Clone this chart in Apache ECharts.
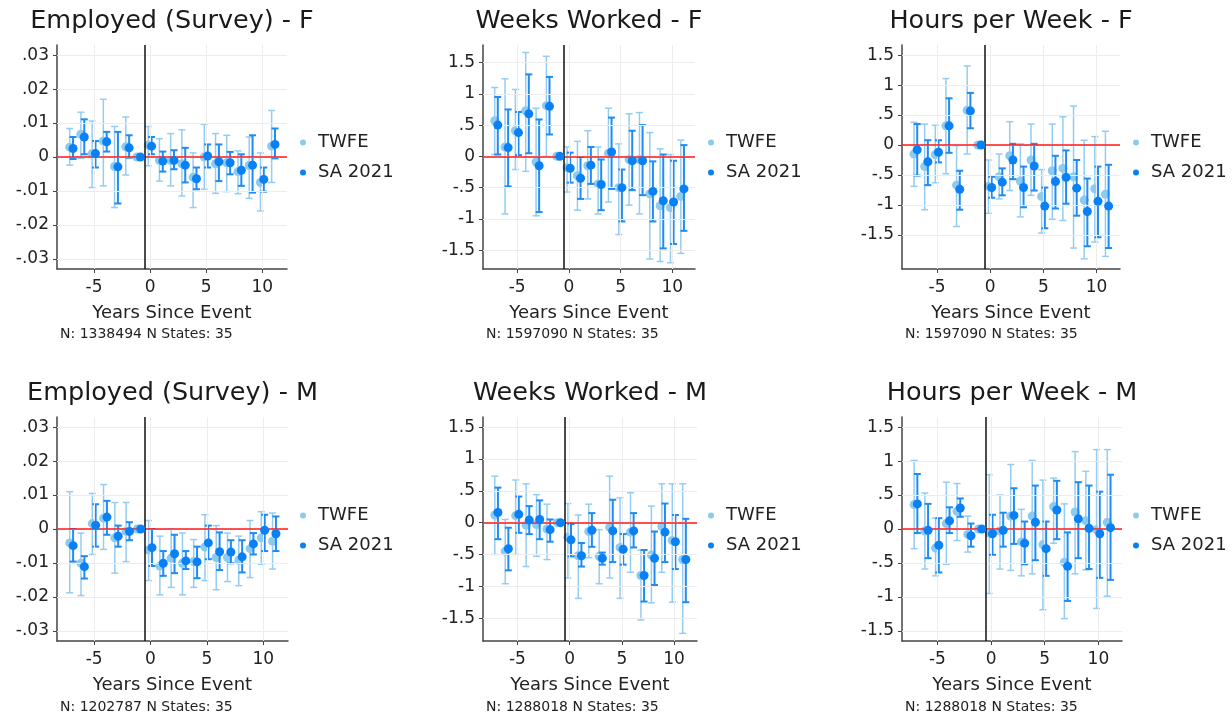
<!DOCTYPE html>
<html>
<head>
<meta charset="utf-8">
<script src="https://cdn.jsdelivr.net/npm/echarts@6.0.0/dist/echarts.min.js"></script>
<style>
  html, body { margin: 0; padding: 0; background: #fff; }
  #main { width: 1232px; height: 715px; }
</style>
</head>
<body>
<div id="main"></div>
<script>
// event time, relative to the policy year
var periods = [-7, -6, -5, -4, -3, -2, -1, 0, 1, 2, 3, 4, 5, 6, 7, 8, 9, 10, 11];
var xTicks = [-5, 0, 5, 10];
var smallTicks = [-0.03, -0.02, -0.01, 0, 0.01, 0.02, 0.03];
var bigTicks = [-1.5, -1, -0.5, 0, 0.5, 1, 1.5];

var titles = ['Employed (Survey) - F', 'Weeks Worked - F', 'Hours per Week - F',
              'Employed (Survey) - M', 'Weeks Worked - M', 'Hours per Week - M'];
var notes = ['N: 1338494 N States: 35', 'N: 1597090 N States: 35', 'N: 1597090 N States: 35',
             'N: 1202787 N States: 35', 'N: 1288018 N States: 35', 'N: 1288018 N States: 35'];

// Employed (Survey) - F
var empF_tw   = [0.0029, 0.0067, 0.001, 0.0047, -0.0028, 0.003, 0, 0.0035, -0.001, -0.001, -0.002, -0.006, 0, -0.002, -0.0017, -0.0043, -0.0025, -0.0075, 0.0032];
var empF_twLo = [-0.0024, -0.0004, -0.009, -0.0085, -0.0149, -0.0053, 0, -0.0026, -0.0071, -0.0085, -0.0115, -0.0149, -0.0095, -0.0107, -0.0102, -0.0108, -0.0122, -0.0159, -0.0075];
var empF_twHi = [0.0084, 0.0132, 0.0106, 0.017, 0.009, 0.0118, 0, 0.009, 0.0054, 0.0069, 0.008, 0.0012, 0.0096, 0.0069, 0.0064, 0.0018, 0.0059, 0.0012, 0.0137];
var empF_sa   = [0.0025, 0.0059, 0.001, 0.0045, -0.0029, 0.0027, 0, 0.0032, -0.0012, -0.001, -0.0024, -0.0064, 0.0003, -0.0014, -0.0017, -0.0039, -0.0024, -0.0066, 0.0037];
var empF_saLo = [-0.0006, 0.0008, -0.0031, 0.0016, -0.0137, -0.0002, 0, 0.0008, -0.0043, -0.0036, -0.0075, -0.0095, -0.0031, -0.0071, -0.0051, -0.0085, -0.0105, -0.0102, -0.0004];
var empF_saHi = [0.0059, 0.0111, 0.0047, 0.0074, 0.0074, 0.0064, 0, 0.0059, 0.0016, 0.002, 0.0027, -0.0031, 0.0037, 0.0037, 0.0015, 0.0008, 0.0064, -0.0031, 0.0084];

// Weeks Worked - F
var wksF_tw   = [0.57, 0.15, 0.41, 0.73, -0.09, 0.81, 0, -0.18, -0.31, -0.15, -0.44, 0.05, -0.5, -0.05, -0.05, -0.6, -0.79, -0.82, -0.64];
var wksF_twLo = [0.03, -0.92, -0.21, -0.24, -0.95, 0, 0, -0.57, -0.86, -0.68, -0.92, -0.73, -1.25, -0.78, -0.92, -1.64, -1.68, -1.7, -1.55];
var wksF_twHi = [1.1, 1.24, 1.07, 1.66, 0.77, 1.6, 0, 0.15, 0.24, 0.41, 0.15, 0.77, 0.2, 0.68, 0.7, 0.38, 0.12, 0.03, 0.26];
var wksF_sa   = [0.5, 0.14, 0.38, 0.68, -0.15, 0.8, 0, -0.19, -0.35, -0.14, -0.45, 0.07, -0.5, -0.07, -0.07, -0.56, -0.71, -0.73, -0.52];
var wksF_saLo = [0.03, -0.48, 0.02, 0.05, -0.89, 0.35, 0, -0.42, -0.68, -0.44, -0.86, -0.52, -1.04, -0.54, -0.62, -1.04, -1.47, -1.4, -1.19];
var wksF_saHi = [0.95, 0.75, 0.71, 1.31, 0.59, 1.27, 0, 0.06, -0.01, 0.15, -0.05, 0.62, -0.21, 0.41, 0.5, -0.08, 0.03, -0.07, 0.18];

// Hours per Week - F
var hrsF_tw   = [-0.15, -0.36, -0.16, 0.32, -0.67, 0.58, 0, -0.69, -0.53, -0.18, -0.6, -0.25, -0.86, -0.43, -0.39, -0.53, -0.92, -0.73, -0.82];
var hrsF_twLo = [-0.69, -1.08, -0.63, -0.48, -1.36, -0.15, 0, -1.14, -0.9, -0.76, -1.2, -0.84, -1.47, -1.24, -1.26, -1.72, -1.9, -1.62, -1.86];
var hrsF_twHi = [0.38, 0.35, 0.33, 1.11, -0.01, 1.32, 0, -0.25, -0.15, 0.39, 0.02, 0.35, -0.41, 0.35, 0.47, 0.65, 0.08, 0.14, 0.23];
var hrsF_sa   = [-0.08, -0.28, -0.12, 0.32, -0.74, 0.57, 0, -0.71, -0.62, -0.25, -0.71, -0.35, -1.02, -0.61, -0.54, -0.72, -1.11, -0.94, -1.02];
var hrsF_saLo = [-0.51, -0.67, -0.29, -0.13, -1.08, 0.28, 0, -0.88, -0.84, -0.57, -1.04, -0.76, -1.39, -1.06, -0.98, -1.18, -1.69, -1.54, -1.72];
var hrsF_saHi = [0.35, 0.08, 0.08, 0.78, -0.43, 0.87, 0, -0.53, -0.39, 0.02, -0.36, 0.02, -0.71, -0.18, -0.09, -0.25, -0.56, -0.36, -0.33];

// Employed (Survey) - M
var empM_tw   = [-0.0041, -0.0101, 0.0016, 0.0032, -0.0026, -0.0007, 0, -0.0062, -0.0109, -0.0086, -0.0101, -0.0096, -0.0053, -0.0084, -0.0084, -0.0092, -0.0058, -0.0026, -0.0036];
var empM_twLo = [-0.0188, -0.0196, -0.0075, -0.006, -0.013, -0.0096, 0, -0.0152, -0.0194, -0.0172, -0.0194, -0.0172, -0.0152, -0.0179, -0.0155, -0.0167, -0.0143, -0.0104, -0.0118];
var empM_twHi = [0.011, -0.0012, 0.0105, 0.0131, 0.0078, 0.0078, 0, 0.0025, -0.0021, 0, -0.0012, -0.0031, 0.0042, 0.001, -0.0012, -0.0021, 0.0025, 0.0051, 0.0047];
var empM_sa   = [-0.0049, -0.0111, 0.0011, 0.0035, -0.0021, -0.0007, 0, -0.0055, -0.0101, -0.0073, -0.0094, -0.0097, -0.0041, -0.0067, -0.0068, -0.0082, -0.0044, -0.0004, -0.0014];
var empM_saLo = [-0.0096, -0.0146, -0.0052, -0.0017, -0.0052, -0.0033, 0, -0.0109, -0.0138, -0.013, -0.0118, -0.0145, -0.0089, -0.0121, -0.0101, -0.0128, -0.0075, -0.0065, -0.0065];
var empM_saHi = [0, -0.008, 0.0073, 0.0083, 0.001, 0.002, 0, 0, -0.0065, -0.0017, -0.0065, -0.0052, 0.001, -0.001, -0.0033, -0.0033, -0.0012, 0.0042, 0.0037];

// Weeks Worked - M
var wksM_tw   = [0.12, -0.45, 0.11, -0.04, -0.03, -0.1, 0, -0.23, -0.52, -0.14, -0.53, -0.07, -0.39, -0.15, -0.83, -0.51, -0.06, -0.28, -0.58];
var wksM_twLo = [-0.5, -0.96, -0.5, -0.69, -0.53, -0.58, 0, -0.87, -1.19, -0.55, -0.96, -0.87, -1.19, -0.78, -1.53, -1.26, -0.78, -1.25, -1.74];
var wksM_twHi = [0.73, 0.05, 0.67, 0.61, 0.44, 0.29, 0, 0.3, 0.12, 0.29, -0.11, 0.73, 0.39, 0.47, -0.43, 0.26, 0.61, 0.61, 0.61];
var wksM_sa   = [0.16, -0.41, 0.13, 0.04, 0.05, -0.11, 0, -0.27, -0.52, -0.12, -0.56, -0.13, -0.42, -0.13, -0.83, -0.56, -0.15, -0.3, -0.58];
var wksM_saLo = [-0.26, -0.75, -0.16, -0.18, -0.26, -0.3, 0, -0.53, -0.69, -0.38, -0.66, -0.62, -0.66, -0.39, -1.24, -0.98, -0.62, -0.73, -1.25];
var wksM_saHi = [0.55, -0.08, 0.41, 0.26, 0.35, 0.05, 0, -0.02, -0.32, 0.15, -0.47, 0.36, -0.18, 0.15, -0.43, -0.14, 0.3, 0.12, 0.06];

// Hours per Week - M
var hrsM_tw   = [0.36, -0.03, -0.28, 0.08, 0.26, -0.08, 0, -0.06, -0.03, 0.19, -0.19, 0.19, -0.23, 0.33, -0.49, 0.25, 0.12, -0.01, 0.1];
var hrsM_twLo = [-0.29, -0.59, -0.69, -0.52, -0.17, -0.34, 0, -0.95, -0.59, -0.61, -0.69, -0.66, -1.19, -0.21, -1.32, -0.66, -0.6, -1.17, -0.99];
var hrsM_twHi = [1.01, 0.53, 0.16, 0.69, 0.67, 0.19, 0, 0.8, 0.5, 0.95, 0.29, 1.01, 0.72, 0.75, 0.37, 1.14, 0.85, 1.17, 1.17];
var hrsM_sa   = [0.37, -0.02, -0.24, 0.12, 0.31, -0.1, 0, -0.07, -0.02, 0.2, -0.21, 0.1, -0.29, 0.28, -0.55, 0.15, 0.01, -0.07, 0.02];
var hrsM_saLo = [-0.06, -0.43, -0.64, -0.06, 0.18, -0.26, 0, -0.38, -0.26, -0.22, -0.52, -0.46, -0.69, -0.15, -1.06, -0.43, -0.59, -0.72, -0.75];
var hrsM_saHi = [0.81, 0.37, 0.16, 0.32, 0.45, 0.08, 0, 0.21, 0.24, 0.6, 0.11, 0.64, 0.11, 0.71, -0.05, 0.69, 0.64, 0.55, 0.8];

var panels = [
  { tw: empF_tw, twLo: empF_twLo, twHi: empF_twHi, sa: empF_sa, saLo: empF_saLo, saHi: empF_saHi, ticks: smallTicks },
  { tw: wksF_tw, twLo: wksF_twLo, twHi: wksF_twHi, sa: wksF_sa, saLo: wksF_saLo, saHi: wksF_saHi, ticks: bigTicks },
  { tw: hrsF_tw, twLo: hrsF_twLo, twHi: hrsF_twHi, sa: hrsF_sa, saLo: hrsF_saLo, saHi: hrsF_saHi, ticks: bigTicks },
  { tw: empM_tw, twLo: empM_twLo, twHi: empM_twHi, sa: empM_sa, saLo: empM_saLo, saHi: empM_saHi, ticks: smallTicks },
  { tw: wksM_tw, twLo: wksM_twLo, twHi: wksM_twHi, sa: wksM_sa, saLo: wksM_saLo, saHi: wksM_saHi, ticks: bigTicks },
  { tw: hrsM_tw, twLo: hrsM_twLo, twHi: hrsM_twHi, sa: hrsM_sa, saLo: hrsM_saLo, saHi: hrsM_saHi, ticks: bigTicks }
];

// plot boxes (px) and y ranges
var boxes = [
  { left: 57,  top: 45,  width: 230, height: 224, ymin: -0.033, ymax: 0.033 },
  { left: 483, top: 45,  width: 212, height: 224, ymin: -1.8,   ymax: 1.78 },
  { left: 902, top: 45,  width: 218, height: 224, ymin: -2.07,  ymax: 1.67 },
  { left: 57,  top: 417, width: 231, height: 224, ymin: -0.033, ymax: 0.033 },
  { left: 483, top: 417, width: 214, height: 224, ymin: -1.86,  ymax: 1.66 },
  { left: 902, top: 417, width: 220, height: 224, ymin: -1.65,  ymax: 1.65 }
];
var legendPos = [[300, 133], [708, 133], [1133, 133], [300, 506], [708, 506], [1133, 506]];

var TW_DOT = '#8dcaf0', TW_BAR = '#94cdf1';
var SA_DOT = '#0a80f5', SA_BAR = '#1f8bf3';
var FONT = 'DejaVu Sans';

function fmtTick(v) {
  if (v === 0) return '0';
  var s = String(parseFloat(v.toFixed(3)));
  return s.replace(/^(-?)0\./, '$1.');
}

function makeErrorBar(lw) {
  return function (params, api) {
    var x = api.value(0), lo = api.value(1), hi = api.value(2);
    if (lo === hi) return;
    var a = api.coord([x, hi]);
    var b = api.coord([x, lo]);
    var w = 3.5;
    var style = { stroke: api.visual('color'), lineWidth: lw, fill: null };
    return {
      type: 'group',
      children: [
        { type: 'line', shape: { x1: a[0], y1: a[1], x2: b[0], y2: b[1] }, style: style },
        { type: 'line', shape: { x1: a[0] - w, y1: a[1], x2: a[0] + w, y2: a[1] }, style: style },
        { type: 'line', shape: { x1: b[0] - w, y1: b[1], x2: b[0] + w, y2: b[1] }, style: style }
      ]
    };
  };
}

var grid = [], xAxis = [], yAxis = [], series = [], title = [], legend = [];

panels.forEach(function (p, i) {
  var bx = boxes[i];
  grid.push({ left: bx.left, top: bx.top, width: bx.width, height: bx.height });

  xAxis.push({
    gridIndex: i, type: 'value', min: -8.3, max: 12.2,
    name: 'Years Since Event', nameLocation: 'middle', nameGap: 35,
    nameTextStyle: { fontFamily: FONT, fontSize: 18, color: '#222' },
    axisLine: { onZero: false, lineStyle: { color: '#444', width: 1.5 } },
    axisTick: { show: true, length: 4, customValues: xTicks, lineStyle: { color: '#444' } },
    axisLabel: { customValues: xTicks, margin: 10, fontFamily: FONT, fontSize: 17, color: '#222' },
    splitLine: { show: false }
  });
  yAxis.push({
    gridIndex: i, type: 'value', min: bx.ymin, max: bx.ymax,
    axisLine: { show: true, onZero: false, lineStyle: { color: '#444', width: 1.5 } },
    axisTick: { show: true, length: 4, customValues: p.ticks, lineStyle: { color: '#444' } },
    axisLabel: { customValues: p.ticks, margin: 8, fontFamily: FONT, fontSize: 17, color: '#222', formatter: fmtTick },
    splitLine: { show: false }
  });

  var gridLines = xTicks.map(function (v) { return { xAxis: v }; })
    .concat(p.ticks.map(function (v) { return { yAxis: v }; }));

  // light grid lines
  series.push({
    type: 'scatter', xAxisIndex: i, yAxisIndex: i, data: [], z: 0, silent: true,
    markLine: {
      silent: true, symbol: ['none', 'none'], label: { show: false }, animation: false,
      lineStyle: { color: '#ececec', width: 1, type: 'solid' },
      data: gridLines
    }
  });
  // zero line and event line
  series.push({
    type: 'scatter', xAxisIndex: i, yAxisIndex: i, data: [], z: 1, silent: true,
    markLine: {
      silent: true, symbol: ['none', 'none'], label: { show: false }, animation: false,
      data: [
        { yAxis: 0, lineStyle: { color: '#ff1a1a', width: 1.5, type: 'solid' } },
        { xAxis: -0.5, lineStyle: { color: '#111', width: 1.5, type: 'solid' } }
      ]
    }
  });

  series.push({
    type: 'custom', name: 'TWFE ci', xAxisIndex: i, yAxisIndex: i, z: 2,
    renderItem: makeErrorBar(1.5), itemStyle: { color: TW_BAR },
    encode: { x: 0, y: [1, 2] },
    data: periods.map(function (t, k) { return [t - 0.17, p.twLo[k], p.twHi[k]]; })
  });
  series.push({
    type: 'scatter', name: 'TWFE', xAxisIndex: i, yAxisIndex: i, z: 3,
    symbol: 'circle', symbolSize: 9, itemStyle: { color: TW_DOT, opacity: 1 },
    data: periods.map(function (t, k) { return [t - 0.17, p.tw[k]]; })
  });
  series.push({
    type: 'custom', name: 'SA ci', xAxisIndex: i, yAxisIndex: i, z: 4,
    renderItem: makeErrorBar(2), itemStyle: { color: SA_BAR },
    encode: { x: 0, y: [1, 2] },
    data: periods.map(function (t, k) { return [t + 0.13, p.saLo[k], p.saHi[k]]; })
  });
  series.push({
    type: 'scatter', name: 'SA 2021', xAxisIndex: i, yAxisIndex: i, z: 5,
    symbol: 'circle', symbolSize: 9, itemStyle: { color: SA_DOT, opacity: 1 },
    data: periods.map(function (t, k) { return [t + 0.13, p.sa[k]]; })
  });

  var row = i < 3 ? 0 : 1;
  title.push({
    text: titles[i], left: bx.left + bx.width / 2, top: row ? 380 : 8,
    textAlign: 'center', padding: 0,
    textStyle: { fontFamily: FONT, fontSize: 25.5, fontWeight: 'normal', color: '#1a1a1a' }
  });
  title.push({
    text: notes[i], left: bx.left + 3, top: row ? 700 : 327, padding: 0,
    textStyle: { fontFamily: FONT, fontSize: 14, fontWeight: 'normal', color: '#222' }
  });

  legend.push({
    left: legendPos[i][0], top: legendPos[i][1], orient: 'vertical', padding: 0,
    itemWidth: 20, itemHeight: 6, itemGap: 11,
    textStyle: { fontFamily: FONT, fontSize: 18, color: '#222', lineHeight: 19 },
    data: [{ name: 'TWFE', icon: 'circle' }, { name: 'SA 2021', icon: 'circle' }]
  });
});

var chart = echarts.init(document.getElementById('main'), null, { renderer: 'canvas' });
chart.setOption({
  animation: false,
  backgroundColor: '#fff',
  title: title,
  legend: legend,
  grid: grid,
  xAxis: xAxis,
  yAxis: yAxis,
  series: series
});
</script>
</body>
</html>
